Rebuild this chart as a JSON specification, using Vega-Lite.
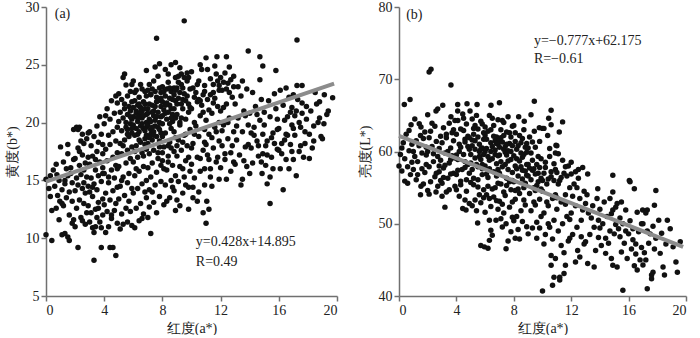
{
  "$schema": "https://vega.github.io/schema/vega-lite/v6.json",
  "padding": {"left": 5, "top": 0, "right": 5, "bottom": 0},
  "background": "white",
  "spacing": 15,
  "config": {
    "font": "Liberation Serif",
    "view": {"stroke": null},
    "axis": {"grid": false, "domainColor": "#707070", "domainWidth": 1.5, "tickColor": "#707070", "tickWidth": 1.5, "tickSize": 5, "labelFont": "Liberation Serif", "labelFontSize": 14, "labelColor": "#222", "labelPadding": 2, "titleFont": "Liberation Serif", "titleFontSize": 14, "titleFontWeight": "normal", "titleColor": "#222"}
  },
  "datasets": {
    "ab": [
{"a":0.0,"b":10.3},{"a":0.4,"b":9.8},{"a":0.0,"b":15.1},{"a":0.3,"b":15.4},{"a":0.4,"b":12.4},{"a":0.7,"b":12.6},{"a":0.9,"b":11.6},{"a":0.6,"b":14.5},{"a":0.8,"b":13.7},{"a":0.5,"b":15.9},{"a":0.9,"b":15.0},{"a":0.2,"b":14.3},{"a":0.7,"b":16.4},{"a":0.95,"b":13.2},{"a":0.3,"b":13.6},{"a":0.75,"b":15.5},
{"a":1.1,"b":10.3},{"a":1.3,"b":10.4},{"a":1.5,"b":10.1},{"a":1.6,"b":9.8},{"a":1.8,"b":11.3},{"a":1.9,"b":11.6},{"a":1.2,"b":12.8},{"a":1.4,"b":13.5},{"a":1.1,"b":14.2},{"a":1.6,"b":14.0},{"a":1.8,"b":13.2},{"a":1.3,"b":15.0},{"a":1.5,"b":15.4},{"a":1.7,"b":16.1},{"a":1.2,"b":16.6},{"a":1.9,"b":16.8},{"a":1.5,"b":17.3},{"a":1.5,"b":18.1},{"a":1.9,"b":19.4},{"a":1.6,"b":12.0},{"a":1.0,"b":17.9},{"a":1.3,"b":14.7},{"a":1.8,"b":14.8},{"a":1.7,"b":15.6},{"a":1.4,"b":16.0},{"a":1.1,"b":13.0},
{"a":2.2,"b":9.2},{"a":2.1,"b":19.6},{"a":2.3,"b":19.6},{"a":2.2,"b":19.4},{"a":2.5,"b":19.0},{"a":2.9,"b":19.1},{"a":2.4,"b":11.8},{"a":2.5,"b":11.5},{"a":2.1,"b":12.6},{"a":2.3,"b":13.3},{"a":2.6,"b":13.0},{"a":2.8,"b":12.2},{"a":2.0,"b":14.1},{"a":2.2,"b":14.6},{"a":2.5,"b":14.3},{"a":2.7,"b":13.9},{"a":2.9,"b":14.5},{"a":2.1,"b":15.2},{"a":2.4,"b":15.5},{"a":2.6,"b":15.9},{"a":2.8,"b":15.3},{"a":2.3,"b":16.3},{"a":2.7,"b":16.5},{"a":2.0,"b":16.9},{"a":2.5,"b":17.2},{"a":2.9,"b":17.0},{"a":2.2,"b":17.8},{"a":2.6,"b":18.2},{"a":2.8,"b":18.6},{"a":2.4,"b":18.4},{"a":2.9,"b":12.8},{"a":2.7,"b":11.2},{"a":2.0,"b":11.0},{"a":2.6,"b":14.8},{"a":2.3,"b":17.5},
{"a":3.3,"b":8.1},{"a":3.8,"b":9.2},{"a":3.3,"b":10.5},{"a":3.2,"b":10.9},{"a":3.0,"b":11.4},{"a":3.1,"b":12.2},{"a":3.5,"b":11.8},{"a":3.7,"b":11.4},{"a":3.9,"b":12.0},{"a":3.4,"b":12.5},{"a":3.6,"b":13.1},{"a":3.2,"b":13.6},{"a":3.9,"b":13.4},{"a":3.0,"b":14.0},{"a":3.5,"b":14.2},{"a":3.3,"b":14.7},{"a":3.8,"b":14.9},{"a":3.1,"b":15.2},{"a":3.6,"b":15.4},{"a":3.4,"b":15.9},{"a":3.9,"b":16.1},{"a":3.0,"b":16.4},{"a":3.7,"b":16.6},{"a":3.2,"b":17.1},{"a":3.5,"b":17.5},{"a":3.9,"b":17.3},{"a":3.1,"b":18.0},{"a":3.6,"b":18.3},{"a":3.3,"b":18.8},{"a":3.8,"b":19.0},{"a":3.7,"b":20.5},{"a":3.5,"b":19.7},{"a":3.0,"b":19.2},{"a":3.4,"b":16.8},{"a":3.9,"b":15.6},{"a":3.2,"b":14.4},{"a":3.6,"b":12.6},{"a":3.8,"b":10.9},{"a":3.4,"b":11.0},{"a":3.9,"b":18.1},
{"a":4.4,"b":9.2},{"a":4.6,"b":9.2},{"a":4.8,"b":8.5},{"a":4.1,"b":10.5},{"a":4.3,"b":11.0},{"a":4.5,"b":11.7},{"a":4.9,"b":11.3},{"a":4.2,"b":12.3},{"a":4.7,"b":12.4},{"a":4.0,"b":12.9},{"a":4.4,"b":13.3},{"a":4.8,"b":13.0},{"a":4.1,"b":13.9},{"a":4.6,"b":14.1},{"a":4.9,"b":14.4},{"a":4.3,"b":14.8},{"a":4.7,"b":15.2},{"a":4.0,"b":15.6},{"a":4.5,"b":15.9},{"a":4.8,"b":16.3},{"a":4.2,"b":16.7},{"a":4.6,"b":17.0},{"a":4.9,"b":17.4},{"a":4.1,"b":17.7},{"a":4.4,"b":18.1},{"a":4.8,"b":18.4},{"a":4.3,"b":18.9},{"a":4.6,"b":19.2},{"a":4.9,"b":19.6},{"a":4.1,"b":20.6},{"a":4.4,"b":20.3},{"a":4.5,"b":21.9},{"a":4.9,"b":21.7},{"a":4.0,"b":19.9},{"a":4.7,"b":20.8},{"a":4.2,"b":21.2},{"a":4.9,"b":16.0},{"a":4.5,"b":12.0},{"a":4.3,"b":15.3},{"a":4.8,"b":22.3},
{"a":5.0,"b":22.5},{"a":5.4,"b":24.2},{"a":5.3,"b":23.9},{"a":5.5,"b":23.25},{"a":5.9,"b":23.3},{"a":5.4,"b":21.6},{"a":5.1,"b":10.8},{"a":5.3,"b":11.2},{"a":5.6,"b":11.4},{"a":5.9,"b":11.1},{"a":5.2,"b":12.1},{"a":5.5,"b":12.6},{"a":5.8,"b":12.3},{"a":5.0,"b":13.4},{"a":5.4,"b":13.7},{"a":5.7,"b":13.2},{"a":5.1,"b":14.5},{"a":5.6,"b":14.8},{"a":5.9,"b":14.3},{"a":5.3,"b":15.3},{"a":5.7,"b":15.6},{"a":5.0,"b":16.2},{"a":5.5,"b":16.5},{"a":5.8,"b":16.9},{"a":5.2,"b":17.3},{"a":5.6,"b":17.6},{"a":5.9,"b":17.9},{"a":5.1,"b":18.2},{"a":5.4,"b":18.5},{"a":5.7,"b":18.8},{"a":5.9,"b":19.1},{"a":5.2,"b":19.3},{"a":5.5,"b":19.6},{"a":5.8,"b":19.9},{"a":5.0,"b":20.1},{"a":5.3,"b":20.4},{"a":5.6,"b":20.7},{"a":5.9,"b":20.3},{"a":5.1,"b":20.9},{"a":5.4,"b":21.2},{"a":5.7,"b":21.4},{"a":5.9,"b":21.8},{"a":5.2,"b":22.0},{"a":5.6,"b":22.3},{"a":5.8,"b":22.7},{"a":5.3,"b":18.0},{"a":5.6,"b":19.0},{"a":5.8,"b":21.0},{"a":5.2,"b":15.0},{"a":5.5,"b":20.0},
{"a":6.2,"b":22.8},{"a":6.8,"b":22.7},{"a":6.1,"b":10.9},{"a":6.4,"b":11.5},{"a":6.7,"b":12.1},{"a":6.2,"b":12.6},{"a":6.5,"b":13.0},{"a":6.9,"b":13.5},{"a":6.0,"b":13.9},{"a":6.3,"b":14.3},{"a":6.6,"b":14.7},{"a":6.9,"b":15.0},{"a":6.1,"b":15.4},{"a":6.4,"b":15.8},{"a":6.7,"b":16.2},{"a":6.0,"b":16.6},{"a":6.3,"b":17.0},{"a":6.6,"b":17.4},{"a":6.9,"b":17.7},{"a":6.2,"b":18.0},{"a":6.5,"b":18.3},{"a":6.8,"b":18.6},{"a":6.1,"b":18.9},{"a":6.4,"b":19.2},{"a":6.7,"b":19.5},{"a":6.0,"b":19.8},{"a":6.3,"b":20.1},{"a":6.6,"b":20.4},{"a":6.9,"b":20.7},{"a":6.2,"b":21.0},{"a":6.5,"b":21.3},{"a":6.8,"b":21.6},{"a":6.1,"b":21.9},{"a":6.4,"b":22.2},{"a":6.7,"b":21.8},{"a":6.9,"b":20.0},{"a":6.0,"b":20.5},{"a":6.3,"b":19.0},{"a":6.5,"b":19.7},{"a":6.8,"b":19.3},{"a":6.2,"b":20.8},{"a":6.6,"b":21.0},{"a":6.9,"b":18.9},{"a":6.4,"b":18.5},{"a":6.1,"b":17.5},{"a":6.7,"b":17.1},{"a":6.3,"b":21.5},{"a":6.9,"b":22.3},{"a":6.5,"b":23.3},{"a":6.0,"b":23.6},{"a":6.6,"b":11.7},{"a":6.8,"b":14.0},{"a":6.2,"b":16.0},{"a":6.9,"b":24.5},{"a":6.4,"b":20.6},
{"a":7.2,"b":10.4},{"a":7.6,"b":12.2},{"a":7.6,"b":27.3},{"a":7.2,"b":22.45},{"a":7.0,"b":11.8},{"a":7.4,"b":13.1},{"a":7.8,"b":13.6},{"a":7.1,"b":14.2},{"a":7.5,"b":14.6},{"a":7.9,"b":14.9},{"a":7.2,"b":15.3},{"a":7.6,"b":15.7},{"a":7.0,"b":16.1},{"a":7.3,"b":16.5},{"a":7.7,"b":16.9},{"a":7.1,"b":17.3},{"a":7.4,"b":17.6},{"a":7.8,"b":17.9},{"a":7.0,"b":18.2},{"a":7.3,"b":18.5},{"a":7.6,"b":18.8},{"a":7.9,"b":19.1},{"a":7.2,"b":19.4},{"a":7.5,"b":19.7},{"a":7.8,"b":20.0},{"a":7.1,"b":20.3},{"a":7.4,"b":20.6},{"a":7.7,"b":20.9},{"a":7.0,"b":21.2},{"a":7.3,"b":21.5},{"a":7.6,"b":21.8},{"a":7.9,"b":22.1},{"a":7.2,"b":22.4},{"a":7.5,"b":22.7},{"a":7.8,"b":23.0},{"a":7.1,"b":23.3},{"a":7.4,"b":23.6},{"a":7.7,"b":24.0},{"a":7.9,"b":21.4},{"a":7.5,"b":20.2},{"a":7.2,"b":19.0},{"a":7.8,"b":18.4},{"a":7.4,"b":21.0},{"a":7.7,"b":19.6},{"a":7.0,"b":20.8},{"a":7.6,"b":22.2},{"a":7.3,"b":14.0},{"a":7.9,"b":16.3},{"a":7.5,"b":24.8},{"a":7.8,"b":25.1},{"a":7.1,"b":12.7},{"a":7.4,"b":19.2},{"a":7.7,"b":17.4},{"a":7.3,"b":22.9},{"a":7.9,"b":20.5},
{"a":8.9,"b":25.2},{"a":8.4,"b":24.2},{"a":8.9,"b":23.9},{"a":8.6,"b":25.0},{"a":8.1,"b":12.9},{"a":8.5,"b":13.5},{"a":8.8,"b":14.1},{"a":8.2,"b":14.6},{"a":8.6,"b":15.0},{"a":8.9,"b":15.4},{"a":8.3,"b":15.9},{"a":8.7,"b":16.3},{"a":8.0,"b":16.7},{"a":8.4,"b":17.1},{"a":8.8,"b":17.5},{"a":8.1,"b":17.9},{"a":8.5,"b":18.3},{"a":8.9,"b":18.7},{"a":8.2,"b":19.1},{"a":8.6,"b":19.5},{"a":8.0,"b":19.9},{"a":8.3,"b":20.3},{"a":8.7,"b":20.7},{"a":8.1,"b":21.1},{"a":8.5,"b":21.5},{"a":8.9,"b":21.9},{"a":8.2,"b":22.3},{"a":8.6,"b":22.7},{"a":8.0,"b":23.1},{"a":8.4,"b":23.5},{"a":8.8,"b":23.0},{"a":8.3,"b":21.7},{"a":8.7,"b":20.1},{"a":8.0,"b":18.8},{"a":8.5,"b":19.9},{"a":8.8,"b":22.4},{"a":8.2,"b":20.8},{"a":8.6,"b":21.2},{"a":8.9,"b":20.4},{"a":8.4,"b":18.0},{"a":8.1,"b":16.0},{"a":8.7,"b":14.4},{"a":8.3,"b":13.2},{"a":8.9,"b":12.4},{"a":8.5,"b":22.1},{"a":8.0,"b":21.8},{"a":8.6,"b":17.8},{"a":8.2,"b":24.6},{"a":8.8,"b":19.2},{"a":8.4,"b":16.6},
{"a":9.5,"b":28.8},{"a":9.2,"b":24.75},{"a":9.3,"b":24.2},{"a":9.8,"b":23.9},{"a":9.0,"b":13.3},{"a":9.4,"b":13.9},{"a":9.8,"b":14.4},{"a":9.1,"b":14.9},{"a":9.5,"b":15.3},{"a":9.9,"b":15.8},{"a":9.2,"b":16.2},{"a":9.6,"b":16.7},{"a":9.0,"b":17.1},{"a":9.3,"b":17.6},{"a":9.7,"b":18.0},{"a":9.1,"b":18.5},{"a":9.5,"b":18.9},{"a":9.9,"b":19.4},{"a":9.2,"b":19.8},{"a":9.6,"b":20.3},{"a":9.0,"b":20.7},{"a":9.4,"b":21.2},{"a":9.8,"b":21.6},{"a":9.1,"b":22.1},{"a":9.5,"b":22.5},{"a":9.9,"b":22.9},{"a":9.3,"b":23.3},{"a":9.7,"b":23.6},{"a":9.0,"b":23.0},{"a":9.4,"b":22.0},{"a":9.8,"b":20.9},{"a":9.2,"b":20.0},{"a":9.6,"b":19.0},{"a":9.0,"b":18.0},{"a":9.4,"b":16.0},{"a":9.8,"b":17.0},{"a":9.3,"b":21.6},{"a":9.7,"b":22.3},{"a":9.1,"b":24.0},{"a":9.5,"b":23.9},{"a":9.9,"b":21.3},{"a":9.6,"b":14.6},{"a":9.2,"b":12.8},{"a":9.8,"b":12.5},{"a":9.4,"b":18.3},
{"a":10.8,"b":12.2},{"a":10.1,"b":13.5},{"a":10.5,"b":14.0},{"a":10.9,"b":14.6},{"a":10.2,"b":15.2},{"a":10.6,"b":15.8},{"a":10.0,"b":16.4},{"a":10.4,"b":17.0},{"a":10.8,"b":17.6},{"a":10.1,"b":18.2},{"a":10.5,"b":18.8},{"a":10.9,"b":19.4},{"a":10.2,"b":20.0},{"a":10.6,"b":20.6},{"a":10.0,"b":21.2},{"a":10.4,"b":21.8},{"a":10.8,"b":22.4},{"a":10.1,"b":23.0},{"a":10.5,"b":23.6},{"a":10.9,"b":23.2},{"a":10.3,"b":22.6},{"a":10.7,"b":21.5},{"a":10.2,"b":19.0},{"a":10.6,"b":16.9},{"a":10.9,"b":16.0},{"a":10.4,"b":13.2},{"a":10.0,"b":24.4},{"a":10.7,"b":24.6},{"a":10.3,"b":19.7},{"a":10.8,"b":20.9},{"a":10.5,"b":22.0},{"a":10.0,"b":17.8},{"a":10.6,"b":25.0},{"a":10.9,"b":18.3},{"a":10.1,"b":14.4},
{"a":11.0,"b":11.3},{"a":11.2,"b":12.5},{"a":11.05,"b":13.2},{"a":11.4,"b":14.5},{"a":11.9,"b":15.1},{"a":11.75,"b":25.7},{"a":11.0,"b":25.6},{"a":11.3,"b":16.0},{"a":11.7,"b":16.6},{"a":11.1,"b":17.2},{"a":11.5,"b":17.8},{"a":11.9,"b":18.4},{"a":11.2,"b":19.0},{"a":11.6,"b":19.6},{"a":11.0,"b":20.2},{"a":11.4,"b":20.8},{"a":11.8,"b":21.4},{"a":11.1,"b":22.0},{"a":11.5,"b":22.6},{"a":11.9,"b":23.2},{"a":11.3,"b":23.8},{"a":11.7,"b":24.2},{"a":11.2,"b":21.1},{"a":11.6,"b":22.1},{"a":11.9,"b":20.0},{"a":11.4,"b":18.7},{"a":11.8,"b":17.0},{"a":11.1,"b":24.6},{"a":11.5,"b":23.3},{"a":11.7,"b":19.2},{"a":11.3,"b":15.3},{"a":11.9,"b":22.8},{"a":11.0,"b":18.1},{"a":11.6,"b":24.9},{"a":11.2,"b":16.8},
{"a":12.4,"b":25.7},{"a":12.4,"b":15.1},{"a":12.0,"b":16.1},{"a":12.3,"b":16.8},{"a":12.7,"b":17.4},{"a":12.1,"b":18.0},{"a":12.5,"b":18.6},{"a":12.9,"b":19.2},{"a":12.2,"b":19.8},{"a":12.6,"b":20.4},{"a":12.0,"b":21.0},{"a":12.4,"b":21.6},{"a":12.8,"b":22.2},{"a":12.1,"b":22.8},{"a":12.5,"b":23.4},{"a":12.9,"b":24.0},{"a":12.3,"b":24.3},{"a":12.7,"b":23.7},{"a":12.2,"b":21.3},{"a":12.6,"b":22.6},{"a":12.9,"b":23.1},{"a":12.0,"b":23.9},{"a":12.5,"b":20.0},{"a":12.8,"b":18.0},{"a":12.3,"b":17.3},{"a":12.7,"b":15.8},{"a":12.1,"b":19.3},{"a":12.9,"b":16.6},{"a":12.4,"b":22.9},{"a":12.6,"b":24.8},
{"a":13.5,"b":15.1},{"a":13.9,"b":26.2},{"a":13.5,"b":23.6},{"a":13.0,"b":16.4},{"a":13.3,"b":17.2},{"a":13.7,"b":17.9},{"a":13.1,"b":18.5},{"a":13.5,"b":19.2},{"a":13.9,"b":19.8},{"a":13.2,"b":20.4},{"a":13.6,"b":21.0},{"a":13.0,"b":21.6},{"a":13.4,"b":22.3},{"a":13.8,"b":22.9},{"a":13.2,"b":23.1},{"a":13.6,"b":16.7},{"a":13.9,"b":18.1},{"a":13.1,"b":19.7},{"a":13.7,"b":20.6},{"a":13.4,"b":14.6},{"a":13.8,"b":16.2},
{"a":14.0,"b":15.6},{"a":14.85,"b":15.6},{"a":14.7,"b":25.7},{"a":14.9,"b":24.9},{"a":14.7,"b":23.7},{"a":14.2,"b":16.5},{"a":14.6,"b":17.1},{"a":14.1,"b":17.8},{"a":14.5,"b":18.4},{"a":14.9,"b":19.0},{"a":14.3,"b":19.6},{"a":14.7,"b":20.2},{"a":14.0,"b":20.8},{"a":14.4,"b":21.4},{"a":14.8,"b":22.0},{"a":14.2,"b":22.6},{"a":14.6,"b":18.0},{"a":14.9,"b":17.3},{"a":14.3,"b":18.9},{"a":14.8,"b":16.6},{"a":14.5,"b":20.7},{"a":14.1,"b":19.1},
{"a":15.4,"b":13.0},{"a":15.8,"b":24.5},{"a":15.1,"b":16.3},{"a":15.5,"b":17.0},{"a":15.9,"b":17.7},{"a":15.2,"b":18.4},{"a":15.6,"b":19.1},{"a":15.0,"b":19.8},{"a":15.4,"b":20.5},{"a":15.8,"b":21.2},{"a":15.3,"b":21.9},{"a":15.7,"b":22.5},{"a":15.1,"b":18.0},{"a":15.5,"b":18.7},{"a":15.9,"b":19.4},{"a":15.2,"b":17.2},{"a":15.6,"b":16.0},{"a":15.0,"b":20.9},{"a":15.9,"b":20.3},{"a":15.4,"b":15.3},{"a":15.7,"b":18.2},{"a":15.2,"b":14.7},
{"a":16.1,"b":16.0},{"a":16.5,"b":16.8},{"a":16.9,"b":17.5},{"a":16.2,"b":18.2},{"a":16.6,"b":18.9},{"a":16.0,"b":19.5},{"a":16.4,"b":20.2},{"a":16.8,"b":20.9},{"a":16.3,"b":21.5},{"a":16.7,"b":22.2},{"a":16.1,"b":22.8},{"a":16.5,"b":19.0},{"a":16.9,"b":19.8},{"a":16.2,"b":17.3},{"a":16.6,"b":20.5},{"a":16.9,"b":21.3},{"a":16.4,"b":18.5},{"a":16.0,"b":17.6},{"a":16.8,"b":18.1},{"a":16.3,"b":14.2},{"a":16.7,"b":16.0},{"a":16.5,"b":23.0},
{"a":17.25,"b":27.15},{"a":17.25,"b":23.2},{"a":17.6,"b":23.2},{"a":17.0,"b":16.8},{"a":17.4,"b":17.5},{"a":17.8,"b":18.2},{"a":17.1,"b":18.9},{"a":17.5,"b":19.6},{"a":17.9,"b":20.3},{"a":17.2,"b":21.0},{"a":17.6,"b":21.7},{"a":17.0,"b":22.4},{"a":17.4,"b":20.0},{"a":17.8,"b":19.2},{"a":17.1,"b":20.6},{"a":17.5,"b":18.0},{"a":17.9,"b":21.4},{"a":17.3,"b":22.0},{"a":17.7,"b":17.0},{"a":17.2,"b":15.4},{"a":17.0,"b":19.5},{"a":17.6,"b":20.8},
{"a":18.1,"b":19.0},{"a":18.4,"b":19.7},{"a":18.8,"b":20.4},{"a":18.2,"b":21.0},{"a":18.6,"b":21.6},{"a":18.9,"b":18.8},{"a":18.3,"b":17.8},{"a":18.7,"b":20.0},{"a":19.1,"b":19.9},{"a":19.13,"b":22.4},{"a":19.7,"b":22.15},{"a":19.4,"b":21.0},{"a":18.5,"b":22.6},{"a":19.0,"b":18.6},{"a":18.1,"b":16.9},{"a":19.3,"b":20.7},{"a":18.8,"b":21.8},{"a":18.4,"b":18.4},
{"a":5.6,"b":19.4},{"a":5.8,"b":20.5},{"a":6.0,"b":21.3},{"a":6.2,"b":19.5},{"a":6.3,"b":20.4},{"a":6.5,"b":20.9},{"a":6.6,"b":19.9},{"a":6.7,"b":20.6},{"a":6.8,"b":21.2},{"a":6.9,"b":19.6},{"a":7.0,"b":19.8},{"a":7.1,"b":21.6},{"a":7.2,"b":20.1},{"a":7.3,"b":19.6},{"a":7.3,"b":20.9},{"a":7.5,"b":21.4},{"a":7.6,"b":20.5},{"a":7.7,"b":21.9},{"a":7.8,"b":19.4},{"a":7.9,"b":22.6},{"a":8.0,"b":20.6},{"a":8.1,"b":22.7},{"a":8.2,"b":21.5},{"a":8.3,"b":22.9},{"a":8.4,"b":20.9},{"a":8.5,"b":23.0},{"a":8.6,"b":20.4},{"a":8.7,"b":22.0},{"a":8.8,"b":21.2},{"a":8.9,"b":22.8},{"a":9.0,"b":21.6},{"a":9.1,"b":23.5},{"a":9.2,"b":22.6},{"a":9.3,"b":20.4},{"a":9.4,"b":23.0},{"a":9.6,"b":21.9},{"a":9.7,"b":24.3},{"a":6.1,"b":22.6},{"a":6.6,"b":22.9},{"a":7.0,"b":22.8},{"a":5.9,"b":19.5},{"a":6.4,"b":21.6},{"a":7.4,"b":18.9},{"a":7.1,"b":18.7},{"a":6.8,"b":18.1},{"a":8.0,"b":17.4},{"a":10.2,"b":22.2},{"a":10.4,"b":23.3},{"a":10.6,"b":21.9},{"a":10.9,"b":22.7},{"a":11.3,"b":22.4},{"a":11.5,"b":21.7},{"a":11.8,"b":23.6},{"a":12.2,"b":23.5}
    ],
    "al": [
{"a":0.0,"L":58.0},{"a":0.37,"L":66.5},{"a":0.77,"L":67.2},{"a":0.84,"L":63.7},{"a":0.6,"L":55.6},{"a":0.2,"L":57.3},{"a":0.4,"L":59.0},{"a":0.7,"L":60.1},{"a":0.9,"L":58.5},{"a":0.3,"L":61.2},{"a":0.5,"L":62.4},{"a":0.8,"L":56.8},{"a":0.1,"L":59.6},{"a":0.6,"L":57.9},{"a":0.9,"L":61.0},{"a":0.4,"L":55.9},{"a":0.2,"L":60.5},{"a":0.7,"L":62.9},
{"a":1.2,"L":56.1},{"a":1.53,"L":55.2},{"a":1.41,"L":63.85},{"a":1.53,"L":63.4},{"a":1.1,"L":64.5},{"a":1.0,"L":57.5},{"a":1.3,"L":58.6},{"a":1.6,"L":59.8},{"a":1.9,"L":60.6},{"a":1.2,"L":61.5},{"a":1.5,"L":62.2},{"a":1.8,"L":57.1},{"a":1.1,"L":59.3},{"a":1.4,"L":60.8},{"a":1.7,"L":61.8},{"a":1.9,"L":58.2},{"a":1.3,"L":56.8},{"a":1.6,"L":57.6},{"a":1.8,"L":62.7},{"a":1.0,"L":60.0},{"a":1.5,"L":54.0},{"a":1.7,"L":55.5},
{"a":2.1,"L":71.0},{"a":2.23,"L":71.4},{"a":2.0,"L":65.1},{"a":2.58,"L":65.6},{"a":2.7,"L":65.9},{"a":2.0,"L":54.6},{"a":2.1,"L":54.1},{"a":2.58,"L":54.4},{"a":2.2,"L":55.8},{"a":2.5,"L":56.5},{"a":2.8,"L":57.2},{"a":2.1,"L":57.9},{"a":2.4,"L":58.6},{"a":2.7,"L":59.3},{"a":2.0,"L":60.0},{"a":2.3,"L":60.7},{"a":2.6,"L":61.4},{"a":2.9,"L":62.1},{"a":2.2,"L":62.8},{"a":2.5,"L":63.5},{"a":2.8,"L":60.4},{"a":2.4,"L":59.7},{"a":2.6,"L":57.0},{"a":2.9,"L":58.8},{"a":2.1,"L":61.9},{"a":2.7,"L":55.2},{"a":2.3,"L":63.9},{"a":2.9,"L":56.0},
{"a":3.05,"L":66.4},{"a":3.62,"L":69.2},{"a":3.62,"L":64.8},{"a":3.3,"L":54.4},{"a":3.2,"L":52.3},{"a":3.0,"L":55.6},{"a":3.4,"L":56.3},{"a":3.8,"L":57.0},{"a":3.1,"L":57.7},{"a":3.5,"L":58.4},{"a":3.9,"L":59.1},{"a":3.2,"L":59.8},{"a":3.6,"L":60.5},{"a":3.0,"L":61.2},{"a":3.3,"L":61.9},{"a":3.7,"L":62.6},{"a":3.1,"L":63.3},{"a":3.5,"L":63.9},{"a":3.9,"L":64.3},{"a":3.4,"L":60.0},{"a":3.8,"L":61.5},{"a":3.2,"L":58.1},{"a":3.6,"L":56.9},{"a":3.9,"L":55.2},{"a":3.0,"L":53.8},{"a":3.5,"L":54.7},{"a":3.7,"L":59.4},{"a":3.3,"L":62.4},{"a":3.8,"L":63.0},{"a":3.1,"L":56.4},
{"a":4.09,"L":66.5},{"a":4.74,"L":66.6},{"a":4.09,"L":65.6},{"a":4.44,"L":65.2},{"a":4.95,"L":65.6},{"a":4.2,"L":53.8},{"a":4.44,"L":52.1},{"a":4.67,"L":51.9},{"a":4.9,"L":52.8},{"a":4.0,"L":54.7},{"a":4.3,"L":55.4},{"a":4.7,"L":56.1},{"a":4.0,"L":56.8},{"a":4.4,"L":57.5},{"a":4.8,"L":58.2},{"a":4.1,"L":58.9},{"a":4.5,"L":59.6},{"a":4.9,"L":60.3},{"a":4.2,"L":61.0},{"a":4.6,"L":61.7},{"a":4.0,"L":62.4},{"a":4.3,"L":63.1},{"a":4.7,"L":63.8},{"a":4.1,"L":64.3},{"a":4.5,"L":64.6},{"a":4.8,"L":62.1},{"a":4.2,"L":60.0},{"a":4.6,"L":58.6},{"a":4.9,"L":57.0},{"a":4.3,"L":55.9},{"a":4.7,"L":54.5},{"a":4.0,"L":59.5},{"a":4.5,"L":62.9},{"a":4.8,"L":60.7},{"a":4.1,"L":57.4},{"a":4.6,"L":53.3},
{"a":5.44,"L":66.5},{"a":5.48,"L":50.1},{"a":5.7,"L":47.0},{"a":5.95,"L":46.8},{"a":5.1,"L":52.5},{"a":5.3,"L":53.3},{"a":5.6,"L":54.0},{"a":5.9,"L":54.7},{"a":5.2,"L":55.4},{"a":5.5,"L":56.1},{"a":5.8,"L":56.8},{"a":5.1,"L":57.5},{"a":5.4,"L":58.2},{"a":5.7,"L":58.9},{"a":5.0,"L":59.6},{"a":5.3,"L":60.3},{"a":5.6,"L":61.0},{"a":5.9,"L":61.7},{"a":5.2,"L":62.4},{"a":5.5,"L":63.1},{"a":5.8,"L":63.8},{"a":5.1,"L":64.5},{"a":5.4,"L":65.0},{"a":5.7,"L":64.2},{"a":5.9,"L":62.6},{"a":5.3,"L":61.5},{"a":5.6,"L":60.0},{"a":5.0,"L":58.4},{"a":5.8,"L":57.6},{"a":5.2,"L":56.3},{"a":5.5,"L":55.1},{"a":5.9,"L":53.6},{"a":5.4,"L":51.8},{"a":5.7,"L":52.9},{"a":5.1,"L":60.8},{"a":5.6,"L":59.3},{"a":5.3,"L":63.6},{"a":5.8,"L":60.5},{"a":5.0,"L":55.7},{"a":5.5,"L":57.9},
{"a":6.41,"L":66.4},{"a":6.2,"L":46.6},{"a":6.3,"L":47.7},{"a":6.5,"L":48.4},{"a":6.4,"L":49.1},{"a":6.3,"L":50.5},{"a":6.76,"L":50.5},{"a":6.0,"L":51.6},{"a":6.4,"L":52.4},{"a":6.8,"L":53.2},{"a":6.1,"L":54.0},{"a":6.5,"L":54.8},{"a":6.9,"L":55.6},{"a":6.2,"L":56.4},{"a":6.6,"L":57.2},{"a":6.0,"L":58.0},{"a":6.3,"L":58.8},{"a":6.7,"L":59.6},{"a":6.1,"L":60.4},{"a":6.4,"L":61.2},{"a":6.8,"L":62.0},{"a":6.2,"L":62.8},{"a":6.6,"L":63.6},{"a":6.9,"L":64.4},{"a":6.3,"L":65.0},{"a":6.7,"L":61.5},{"a":6.0,"L":60.0},{"a":6.5,"L":59.0},{"a":6.9,"L":57.5},{"a":6.2,"L":55.2},{"a":6.6,"L":53.7},{"a":6.9,"L":52.0},{"a":6.4,"L":63.0},{"a":6.8,"L":58.3},{"a":6.1,"L":56.9},{"a":6.5,"L":60.7},{"a":6.7,"L":55.0},{"a":6.3,"L":53.5},{"a":6.9,"L":61.0},{"a":6.0,"L":62.3},
{"a":7.0,"L":66.75},{"a":7.1,"L":50.7},{"a":7.46,"L":50.0},{"a":7.2,"L":49.55},{"a":7.46,"L":46.55},{"a":7.6,"L":47.6},{"a":7.8,"L":48.9},{"a":7.9,"L":50.9},{"a":7.3,"L":51.5},{"a":7.7,"L":52.3},{"a":7.0,"L":53.1},{"a":7.4,"L":53.9},{"a":7.8,"L":54.7},{"a":7.1,"L":55.5},{"a":7.5,"L":56.3},{"a":7.9,"L":57.1},{"a":7.2,"L":57.9},{"a":7.6,"L":58.7},{"a":7.0,"L":59.5},{"a":7.3,"L":60.3},{"a":7.7,"L":61.1},{"a":7.1,"L":61.9},{"a":7.5,"L":62.7},{"a":7.9,"L":63.5},{"a":7.2,"L":64.3},{"a":7.6,"L":64.8},{"a":7.8,"L":62.0},{"a":7.4,"L":60.7},{"a":7.0,"L":57.0},{"a":7.7,"L":55.8},{"a":7.3,"L":54.4},{"a":7.9,"L":53.0},{"a":7.5,"L":59.5},{"a":7.1,"L":63.0},{"a":7.6,"L":57.5},{"a":7.8,"L":60.0},{"a":7.2,"L":52.7},{"a":7.4,"L":58.2},{"a":7.9,"L":56.0},{"a":7.0,"L":61.5},
{"a":8.34,"L":64.8},{"a":8.73,"L":64.2},{"a":8.1,"L":48.0},{"a":8.3,"L":49.2},{"a":8.6,"L":50.3},{"a":8.9,"L":49.6},{"a":8.2,"L":51.0},{"a":8.5,"L":51.8},{"a":8.8,"L":52.6},{"a":8.1,"L":53.4},{"a":8.4,"L":54.2},{"a":8.7,"L":55.0},{"a":8.0,"L":55.8},{"a":8.3,"L":56.6},{"a":8.6,"L":57.4},{"a":8.9,"L":58.2},{"a":8.2,"L":59.0},{"a":8.5,"L":59.8},{"a":8.8,"L":60.6},{"a":8.1,"L":61.4},{"a":8.4,"L":62.2},{"a":8.7,"L":63.0},{"a":8.0,"L":63.6},{"a":8.6,"L":61.8},{"a":8.9,"L":56.7},{"a":8.3,"L":54.8},{"a":8.7,"L":53.3},{"a":8.0,"L":50.4},{"a":8.5,"L":57.9},{"a":8.2,"L":60.3},{"a":8.9,"L":61.1},{"a":8.4,"L":47.9},{"a":8.8,"L":55.6},{"a":8.6,"L":59.2},{"a":8.1,"L":58.0},
{"a":9.43,"L":66.95},{"a":9.2,"L":65.1},{"a":9.43,"L":62.8},{"a":9.78,"L":63.3},{"a":9.0,"L":48.6},{"a":9.3,"L":49.4},{"a":9.6,"L":50.2},{"a":9.9,"L":51.0},{"a":9.2,"L":51.8},{"a":9.5,"L":52.6},{"a":9.8,"L":53.4},{"a":9.1,"L":54.2},{"a":9.4,"L":55.0},{"a":9.7,"L":55.8},{"a":9.0,"L":56.6},{"a":9.3,"L":57.4},{"a":9.6,"L":58.2},{"a":9.9,"L":59.0},{"a":9.2,"L":59.8},{"a":9.5,"L":60.6},{"a":9.8,"L":61.4},{"a":9.1,"L":62.0},{"a":9.7,"L":57.0},{"a":9.4,"L":53.0},{"a":9.0,"L":60.5},{"a":9.6,"L":48.0},{"a":9.9,"L":56.3},{"a":9.3,"L":61.3},{"a":9.5,"L":54.6},{"a":9.8,"L":49.4},
{"a":10.0,"L":63.2},{"a":10.1,"L":63.2},{"a":10.6,"L":63.7},{"a":10.36,"L":62.2},{"a":10.5,"L":60.4},{"a":10.43,"L":64.6},{"a":10.6,"L":65.7},{"a":10.0,"L":40.7},{"a":10.1,"L":47.2},{"a":10.6,"L":45.6},{"a":10.9,"L":45.2},{"a":10.6,"L":44.25},{"a":10.8,"L":42.6},{"a":10.7,"L":41.5},{"a":10.2,"L":48.5},{"a":10.5,"L":49.5},{"a":10.8,"L":50.5},{"a":10.1,"L":51.5},{"a":10.4,"L":52.5},{"a":10.7,"L":53.5},{"a":10.0,"L":54.5},{"a":10.3,"L":55.5},{"a":10.6,"L":56.5},{"a":10.9,"L":57.5},{"a":10.2,"L":58.5},{"a":10.5,"L":59.3},{"a":10.8,"L":56.0},{"a":10.4,"L":50.0},{"a":10.9,"L":54.0},{"a":10.1,"L":57.0},{"a":10.7,"L":47.9},{"a":10.3,"L":53.0},{"a":10.9,"L":59.8},{"a":10.94,"L":60.85},
{"a":11.0,"L":60.8},{"a":11.1,"L":59.7},{"a":11.4,"L":58.8},{"a":11.17,"L":62.7},{"a":11.4,"L":64.1},{"a":11.2,"L":42.6},{"a":11.2,"L":42.2},{"a":11.6,"L":44.25},{"a":11.5,"L":43.1},{"a":11.8,"L":47.6},{"a":11.9,"L":48.0},{"a":11.1,"L":49.0},{"a":11.4,"L":50.0},{"a":11.7,"L":51.0},{"a":11.0,"L":52.0},{"a":11.3,"L":53.0},{"a":11.6,"L":54.0},{"a":11.9,"L":55.0},{"a":11.2,"L":56.0},{"a":11.5,"L":57.0},{"a":11.8,"L":58.0},{"a":11.1,"L":55.5},{"a":11.6,"L":52.7},{"a":11.3,"L":47.0},{"a":11.9,"L":50.6},{"a":11.5,"L":46.0},{"a":11.7,"L":56.6},{"a":11.0,"L":53.6},
{"a":12.0,"L":58.5},{"a":12.45,"L":46.3},{"a":12.6,"L":45.4},{"a":12.5,"L":57.5},{"a":12.8,"L":57.8},{"a":12.1,"L":48.5},{"a":12.4,"L":49.5},{"a":12.7,"L":50.5},{"a":12.0,"L":51.5},{"a":12.3,"L":52.5},{"a":12.6,"L":53.5},{"a":12.9,"L":54.5},{"a":12.2,"L":55.5},{"a":12.5,"L":56.3},{"a":12.8,"L":51.9},{"a":12.1,"L":53.8},{"a":12.7,"L":48.2},{"a":12.3,"L":44.7},{"a":12.9,"L":47.2},{"a":12.4,"L":55.0},
{"a":13.15,"L":56.9},{"a":13.15,"L":44.5},{"a":13.6,"L":44.0},{"a":13.85,"L":54.85},{"a":13.0,"L":47.5},{"a":13.3,"L":48.5},{"a":13.6,"L":49.5},{"a":13.9,"L":50.5},{"a":13.2,"L":51.5},{"a":13.5,"L":52.5},{"a":13.8,"L":53.5},{"a":13.1,"L":54.0},{"a":13.4,"L":50.8},{"a":13.7,"L":46.3},{"a":13.0,"L":52.8},{"a":13.9,"L":48.1},
{"a":14.9,"L":56.7},{"a":14.9,"L":54.4},{"a":14.9,"L":51.9},{"a":14.8,"L":51.4},{"a":14.8,"L":45.2},{"a":14.9,"L":44.25},{"a":14.1,"L":47.0},{"a":14.4,"L":48.0},{"a":14.7,"L":49.0},{"a":14.2,"L":50.0},{"a":14.5,"L":51.0},{"a":14.0,"L":52.0},{"a":14.3,"L":53.0},{"a":14.6,"L":47.3},{"a":14.0,"L":49.4},{"a":14.4,"L":45.9},{"a":14.7,"L":53.5},
{"a":15.5,"L":53.0},{"a":15.2,"L":52.8},{"a":15.1,"L":52.3},{"a":15.8,"L":51.9},{"a":15.5,"L":46.1},{"a":15.6,"L":40.8},{"a":15.0,"L":48.6},{"a":15.3,"L":49.3},{"a":15.6,"L":50.0},{"a":15.1,"L":49.9},{"a":15.4,"L":48.2},{"a":15.7,"L":47.3},{"a":15.9,"L":45.2},{"a":15.2,"L":44.0},{"a":15.8,"L":49.0},{"a":15.4,"L":50.8},
{"a":16.05,"L":56.0},{"a":16.1,"L":55.8},{"a":16.4,"L":54.85},{"a":16.6,"L":51.6},{"a":16.98,"L":51.9},{"a":16.0,"L":48.6},{"a":16.3,"L":47.8},{"a":16.5,"L":47.2},{"a":16.2,"L":46.5},{"a":16.5,"L":45.8},{"a":16.8,"L":45.0},{"a":16.4,"L":44.2},{"a":16.9,"L":46.7},{"a":16.7,"L":48.9},{"a":16.1,"L":50.4},{"a":16.6,"L":43.6},{"a":16.9,"L":50.0},{"a":16.3,"L":49.3},
{"a":17.9,"L":54.6},{"a":17.3,"L":51.9},{"a":17.2,"L":51.5},{"a":17.8,"L":52.55},{"a":17.0,"L":50.0},{"a":17.7,"L":49.65},{"a":17.3,"L":41.0},{"a":17.7,"L":43.3},{"a":17.6,"L":42.9},{"a":17.6,"L":42.4},{"a":17.1,"L":46.0},{"a":17.4,"L":47.3},{"a":17.2,"L":45.0},{"a":17.5,"L":48.6},{"a":17.9,"L":48.0},{"a":17.0,"L":44.3},{"a":17.3,"L":49.0},{"a":17.8,"L":46.5},
{"a":18.1,"L":50.5},{"a":18.7,"L":50.5},{"a":18.5,"L":42.9},{"a":19.3,"L":44.7},{"a":19.4,"L":43.3},{"a":18.3,"L":48.7},{"a":18.6,"L":47.2},{"a":18.9,"L":49.3},{"a":18.2,"L":45.9},{"a":19.1,"L":46.8},{"a":18.4,"L":44.0},{"a":19.6,"L":47.5},
{"a":4.3,"L":60.6},{"a":4.6,"L":61.3},{"a":4.9,"L":61.9},{"a":5.1,"L":61.6},{"a":5.3,"L":59.1},{"a":5.5,"L":62.0},{"a":5.7,"L":60.3},{"a":5.9,"L":59.6},{"a":6.1,"L":61.7},{"a":6.2,"L":59.3},{"a":6.4,"L":60.0},{"a":6.6,"L":62.1},{"a":6.7,"L":60.2},{"a":6.8,"L":61.1},{"a":6.9,"L":59.4},{"a":7.0,"L":60.6},{"a":7.1,"L":58.6},{"a":7.2,"L":61.3},{"a":7.3,"L":62.2},{"a":7.4,"L":59.9},{"a":7.5,"L":61.0},{"a":7.6,"L":60.1},{"a":7.7,"L":62.6},{"a":7.8,"L":58.9},{"a":7.9,"L":60.8},{"a":8.0,"L":59.4},{"a":8.1,"L":62.6},{"a":8.2,"L":57.6},{"a":8.3,"L":60.8},{"a":8.4,"L":58.7},{"a":8.5,"L":61.2},{"a":8.6,"L":56.2},{"a":8.7,"L":59.6},{"a":8.8,"L":57.3},{"a":8.9,"L":59.9},{"a":9.0,"L":58.2},{"a":9.1,"L":57.7},{"a":9.2,"L":56.1},{"a":9.3,"L":58.8},{"a":9.4,"L":57.6},{"a":9.5,"L":56.9},{"a":9.6,"L":55.3},{"a":9.7,"L":59.3},{"a":9.8,"L":57.8},{"a":9.9,"L":54.8},{"a":10.0,"L":56.0},{"a":10.2,"L":57.8},{"a":10.4,"L":56.2},{"a":10.6,"L":57.2},{"a":10.8,"L":58.3},{"a":11.0,"L":57.1},{"a":11.3,"L":56.4},{"a":11.6,"L":57.9},{"a":12.0,"L":56.9},{"a":12.3,"L":57.2},{"a":5.2,"L":63.2},{"a":6.0,"L":63.4},{"a":6.5,"L":64.6},{"a":7.3,"L":64.0},{"a":5.8,"L":58.2},{"a":6.3,"L":57.6},{"a":6.8,"L":56.6},{"a":7.5,"L":55.3},{"a":8.1,"L":54.6},{"a":4.6,"L":57.8},{"a":3.6,"L":58.9},{"a":2.8,"L":58.0},{"a":1.9,"L":59.5}
    ]
  },
  "hconcat": [
    {
      "width": 291,
      "height": 289,
      "encoding": {
        "x": {"field": "a", "type": "quantitative", "scale": {"domain": [0, 20], "nice": false}, "axis": {"values": [0, 4, 8, 12, 16, 20], "title": "红度(a*)", "titlePadding": 4}},
        "y": {"field": "b", "type": "quantitative", "scale": {"domain": [5, 30], "nice": false}, "axis": {"values": [5, 10, 15, 20, 25, 30], "title": "黄度(b*)", "titlePadding": 6}}
      },
      "layer": [
        {"data": {"name": "ab"}, "mark": {"type": "circle", "size": 30, "color": "#111", "opacity": 1}},
        {"data": {"values": [{"a": 0, "b": 14.895}, {"a": 19.8, "b": 23.37}]}, "mark": {"type": "line", "color": "#8c8c8c", "strokeWidth": 4}},
        {"data": {"values": [{"a": 10.3, "b": 9.7, "t": "y=0.428x+14.895"}, {"a": 10.3, "b": 7.9, "t": "R=0.49"}]}, "mark": {"type": "text", "align": "left", "baseline": "middle", "fontSize": 14, "font": "Liberation Serif", "color": "#222"}, "encoding": {"text": {"field": "t"}}},
        {"data": {"values": [{"a": 0.6, "b": 29.4, "t": "(a)"}]}, "mark": {"type": "text", "align": "left", "baseline": "middle", "fontSize": 14, "font": "Liberation Serif", "color": "#222"}, "encoding": {"text": {"field": "t"}}}
      ]
    },
    {
      "width": 287,
      "height": 289,
      "encoding": {
        "x": {"field": "a", "type": "quantitative", "scale": {"domain": [0, 20], "nice": false}, "axis": {"values": [0, 4, 8, 12, 16, 20], "title": "红度(a*)", "titlePadding": 4}},
        "y": {"field": "L", "type": "quantitative", "scale": {"domain": [40, 80], "nice": false}, "axis": {"values": [40, 50, 60, 70, 80], "title": "亮度(L*)", "titlePadding": 6}}
      },
      "layer": [
        {"data": {"name": "al"}, "mark": {"type": "circle", "size": 30, "color": "#111", "opacity": 1}},
        {"data": {"values": [{"a": 0, "L": 62.175}, {"a": 19.8, "L": 46.79}]}, "mark": {"type": "line", "color": "#8c8c8c", "strokeWidth": 4}},
        {"data": {"values": [{"a": 9.4, "L": 75.3, "t": "y=−0.777x+62.175"}, {"a": 9.4, "L": 72.8, "t": "R=−0.61"}]}, "mark": {"type": "text", "align": "left", "baseline": "middle", "fontSize": 14, "font": "Liberation Serif", "color": "#222"}, "encoding": {"text": {"field": "t"}}},
        {"data": {"values": [{"a": 0.5, "L": 78.9, "t": "(b)"}]}, "mark": {"type": "text", "align": "left", "baseline": "middle", "fontSize": 14, "font": "Liberation Serif", "color": "#222"}, "encoding": {"text": {"field": "t"}}}
      ]
    }
  ]
}
